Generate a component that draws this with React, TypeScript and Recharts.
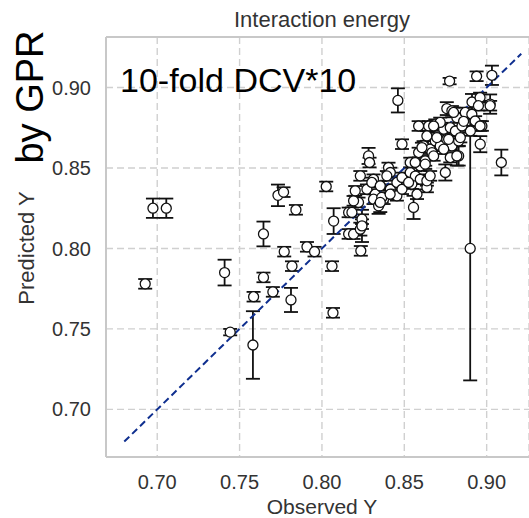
import React from 'react';
import { ScatterChart, Scatter, XAxis, YAxis, CartesianGrid, ErrorBar, ReferenceLine } from 'recharts';

// observed Y, predicted Y (mean) and the half-width of its error bar
const OBSERVED = [
  0.6927, 0.6974, 0.7055, 0.7409, 0.7443, 0.7581, 0.7585, 0.7645, 0.7645, 0.7702,
  0.7733, 0.7767, 0.7842, 0.7771, 0.7818, 0.7812, 0.7909, 0.7955, 0.8026, 0.8071,
  0.8061, 0.8067, 0.8900, 0.9089, 0.8461, 0.8775, 0.8939, 0.9032, 0.8486, 0.8162,
  0.8162, 0.8192, 0.8233, 0.8243, 0.8243, 0.8182, 0.8222, 0.8192, 0.8202, 0.8233,
  0.8283, 0.8289, 0.8273, 0.8313, 0.8303, 0.8323, 0.8313, 0.8374, 0.8354, 0.8344,
  0.8404, 0.8415, 0.8394, 0.8415, 0.8425, 0.8455, 0.8455, 0.8486, 0.8486, 0.8536,
  0.8546, 0.8556, 0.8577, 0.8567, 0.8637, 0.8597, 0.8637, 0.8657, 0.8536, 0.8597,
  0.8627, 0.8587, 0.8617, 0.8657, 0.8688, 0.8718, 0.8749, 0.8587, 0.8648, 0.8688,
  0.8739, 0.8911, 0.8960, 0.9021, 0.8950, 0.8758, 0.8789, 0.8819, 0.8870, 0.8910,
  0.8930, 0.8971, 0.8901, 0.8961, 0.8718, 0.8779, 0.8810, 0.8850, 0.8637, 0.8698,
  0.8758, 0.8789, 0.8830, 0.8607, 0.8668, 0.8779, 0.8830, 0.8860, 0.8960, 0.9021,
  0.8799, 0.8566, 0.8627, 0.8678, 0.8739, 0.8769, 0.8840, 0.8526, 0.8363, 0.8414,
  0.8236, 0.8243, 0.8354, 0.8678, 0.8819,
];
const PREDICTED = [
  0.7780, 0.8250, 0.8250, 0.7850, 0.7480, 0.7400, 0.7700, 0.8090, 0.7820, 0.7730,
  0.8330, 0.8350, 0.8240, 0.7980, 0.7890, 0.7680, 0.8010, 0.7980, 0.8385, 0.8170,
  0.7890, 0.7600, 0.8000, 0.8534, 0.8920, 0.9040, 0.9070, 0.9076, 0.8648, 0.8224,
  0.8090, 0.8089, 0.8120, 0.8151, 0.8182, 0.8224, 0.8286, 0.8296, 0.8358, 0.8451,
  0.8575, 0.8534, 0.8368, 0.8430, 0.8410, 0.8337, 0.8306, 0.8306, 0.8389, 0.8265,
  0.8503, 0.8472, 0.8451, 0.8368, 0.8337, 0.8410, 0.8327, 0.8441, 0.8368, 0.8472,
  0.8400, 0.8255, 0.8337, 0.8450, 0.8379, 0.8430, 0.8420, 0.8451, 0.8534, 0.8513,
  0.8544, 0.8596, 0.8637, 0.8617, 0.8668, 0.8637, 0.8472, 0.8761, 0.8761, 0.8772,
  0.8741, 0.8910, 0.8938, 0.8897, 0.8887, 0.8869, 0.8855, 0.8813, 0.8845, 0.8834,
  0.8792, 0.8761, 0.8730, 0.8648, 0.8783, 0.8751, 0.8730, 0.8761, 0.8699, 0.8689,
  0.8678, 0.8637, 0.8668, 0.8627, 0.8596, 0.8565, 0.8575, 0.8790, 0.8761, 0.8887,
  0.8845, 0.8534, 0.8524, 0.8575, 0.8617, 0.8678, 0.8689, 0.8410, 0.8317, 0.8337,
  0.7985, 0.8140, 0.8286, 0.8761, 0.8575,
];
const ERROR = [
  0.003, 0.006, 0.006, 0.008, 0.002, 0.021, 0.003, 0.0077, 0.003, 0.003,
  0.0067, 0.003, 0.003, 0.003, 0.003, 0.0075, 0.003, 0.003, 0.003, 0.008,
  0.003, 0.003, 0.082, 0.008, 0.0075, 0.002, 0.003, 0.006, 0.003, 0.003,
  0.003, 0.003, 0.004, 0.003, 0.003, 0.003, 0.003, 0.003, 0.003, 0.003,
  0.005, 0.003, 0.003, 0.003, 0.003, 0.003, 0.003, 0.003, 0.003, 0.005,
  0.003, 0.003, 0.003, 0.003, 0.003, 0.003, 0.003, 0.003, 0.003, 0.003,
  0.003, 0.0072, 0.003, 0.003, 0.003, 0.003, 0.003, 0.003, 0.003, 0.003,
  0.003, 0.003, 0.003, 0.003, 0.003, 0.003, 0.005, 0.003, 0.003, 0.003,
  0.003, 0.005, 0.003, 0.006, 0.003, 0.004, 0.003, 0.003, 0.003, 0.003,
  0.003, 0.003, 0.003, 0.005, 0.003, 0.003, 0.003, 0.003, 0.003, 0.003,
  0.003, 0.003, 0.003, 0.003, 0.003, 0.003, 0.006, 0.003, 0.003, 0.003,
  0.003, 0.003, 0.003, 0.003, 0.003, 0.003, 0.003, 0.003, 0.003, 0.003,
  0.003, 0.010, 0.006, 0.003, 0.006,
];
const X_TICKS = [0.7, 0.75, 0.8, 0.85, 0.9];
const Y_TICKS = [0.7, 0.75, 0.8, 0.85, 0.9];
const X_DOMAIN = [0.6689, 0.9257];
const Y_DOMAIN = [0.6704, 0.9314];
const DIAGONAL = [0.68, 0.921];

const data = OBSERVED.map((x, i) => ({ x, y: PREDICTED[i], e: ERROR[i] }));

const FONT = '"Liberation Sans", Arial, sans-serif';
const tickStyle = { fill: '#333', fontSize: 20, fontFamily: FONT };

const Marker = (p: any) => (
  <circle cx={p.cx} cy={p.cy} r={5} fill="#fff" stroke="#111" strokeWidth={1.3} />
);

const rotated = (text: string, cx: number, cy: number, size: number, color: string, w: number) => (
  <div
    style={{
      position: 'absolute', left: cx - w / 2, top: cy - size / 2, width: w, height: size,
      lineHeight: `${size}px`, fontSize: size, fontFamily: FONT, color, textAlign: 'center',
      transform: 'rotate(-90deg)', whiteSpace: 'nowrap',
    }}
  >
    {text}
  </div>
);

export default function App() {
  return (
    <div style={{ position: 'absolute', left: 0, top: 0, width: 529, height: 518, background: '#fff', overflow: 'hidden' }}>
      <ScatterChart width={529} height={518} margin={{ top: 37, right: 0, bottom: 0, left: 0 }}>
        <CartesianGrid stroke="#d0d0d0" strokeWidth={1.4} strokeDasharray="7 4" />
        <XAxis
          type="number" dataKey="x" domain={X_DOMAIN} ticks={X_TICKS} allowDataOverflow
          tickFormatter={(v: number) => v.toFixed(2)} height={61}
          tick={tickStyle} tickLine={false} tickSize={0} tickMargin={18}
          axisLine={{ stroke: '#c8c8c8', strokeWidth: 2 }}
        />
        <YAxis
          type="number" dataKey="y" domain={Y_DOMAIN} ticks={Y_TICKS} allowDataOverflow
          tickFormatter={(v: number) => v.toFixed(2)} width={106}
          tick={tickStyle} tickLine={false} tickSize={0} tickMargin={15}
          axisLine={{ stroke: '#c8c8c8', strokeWidth: 2 }}
        />
        <ReferenceLine y={Y_DOMAIN[1]} stroke="#c8c8c8" strokeWidth={2} />
        <Scatter data={data} shape={Marker} isAnimationActive={false}>
          <ErrorBar dataKey="e" direction="y" width={7} stroke="#111" strokeWidth={1.8} />
        </Scatter>
        <ReferenceLine
          segment={[{ x: DIAGONAL[0], y: DIAGONAL[0] }, { x: DIAGONAL[1], y: DIAGONAL[1] }]}
          stroke="#0f2f8f" strokeWidth={2} strokeDasharray="7 4"
        />
      </ScatterChart>
      <div style={{ position: 'absolute', left: 172, top: 9, width: 300, textAlign: 'center', fontSize: 22, lineHeight: '22px', fontFamily: FONT, color: '#333' }}>
        Interaction energy
      </div>
      <div style={{ position: 'absolute', left: 172, top: 496, width: 300, textAlign: 'center', fontSize: 21, lineHeight: '21px', fontFamily: FONT, color: '#333' }}>
        Observed Y
      </div>
      {rotated('Predicted Y', 27, 248, 22, '#333', 160)}
      {rotated('by GPR', 30, 97, 38, '#000', 180)}
      <div style={{ position: 'absolute', left: 120, top: 63, fontSize: 34, lineHeight: '34px', fontFamily: FONT, color: '#000', whiteSpace: 'nowrap' }}>
        10-fold DCV*10
      </div>
    </div>
  );
}
